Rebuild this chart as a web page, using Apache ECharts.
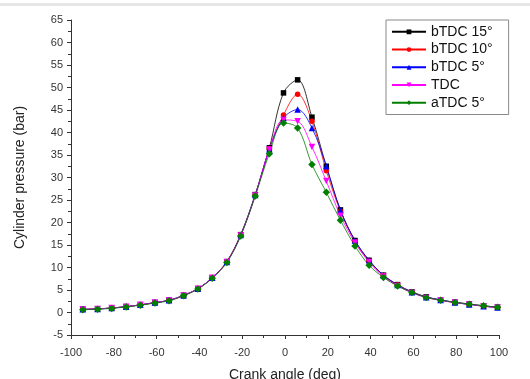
<!DOCTYPE html>
<html>
<head>
<meta charset="utf-8">
<script src="https://cdn.jsdelivr.net/npm/echarts@6/dist/echarts.min.js"></script>
<style>html,body{margin:0;padding:0;background:#fff;}#c{width:530px;height:379px;}</style>
</head>
<body>
<div id="c"></div>
<script>
var crankAngle = [-94.5, -87.6, -81.0, -74.2, -67.6, -60.8, -54.2, -47.4, -40.7, -34.0, -27.2, -20.7, -13.9, -7.3, -0.7, 5.9, 12.6, 19.3, 25.9, 32.7, 39.3, 46.0, 52.6, 59.3, 66.0, 72.7, 79.4, 86.1, 92.8, 99.3];
var bTDC15 = [0.7, 0.8, 1.0, 1.3, 1.7, 2.2, 2.7, 3.8, 5.3, 7.7, 11.3, 17.3, 26.2, 36.6, 48.8, 51.7, 43.4, 32.5, 22.8, 16.0, 11.6, 8.3, 6.2, 4.6, 3.5, 2.8, 2.3, 1.9, 1.5, 1.2];
var bTDC10 = [0.7, 0.8, 1.0, 1.3, 1.7, 2.2, 2.7, 3.8, 5.3, 7.7, 11.3, 17.2, 26.1, 36.4, 43.9, 48.5, 42.5, 31.5, 22.5, 15.8, 11.4, 8.2, 6.1, 4.5, 3.4, 2.7, 2.2, 1.8, 1.4, 1.1];
var bTDC5 = [0.7, 0.8, 1.0, 1.3, 1.7, 2.2, 2.7, 3.8, 5.3, 7.7, 11.2, 17.2, 26.1, 36.3, 43.2, 45.1, 41.0, 32.5, 22.7, 16.0, 11.6, 8.3, 6.1, 4.5, 3.4, 2.8, 2.2, 1.8, 1.4, 1.1];
var TDC = [0.7, 0.8, 1.0, 1.3, 1.7, 2.2, 2.7, 3.8, 5.3, 7.7, 11.2, 17.1, 26.0, 36.2, 42.8, 42.5, 36.8, 29.2, 21.5, 15.5, 11.2, 8.0, 5.9, 4.4, 3.3, 2.7, 2.2, 1.8, 1.4, 1.1];
var aTDC5 = [0.6, 0.75, 0.9, 1.25, 1.6, 2.1, 2.6, 3.7, 5.2, 7.6, 11.1, 17.0, 25.9, 35.3, 42.1, 41.0, 32.9, 26.7, 20.5, 14.8, 10.5, 7.8, 5.9, 4.45, 3.35, 2.75, 2.25, 1.85, 1.5, 1.15];
var seriesNames = ['bTDC 15°', 'bTDC 10°', 'bTDC 5°', 'TDC', 'aTDC 5°'];
var xTicks = [-100, -80, -60, -40, -20, 0, 20, 40, 60, 80, 100];
var yTicks = [-5, 0, 5, 10, 15, 20, 25, 30, 35, 40, 45, 50, 55, 60, 65];

function pairs(ys) { return crankAngle.map(function (x, i) { return [x, ys[i]]; }); }

var styles = [
  {color: '#000000', symbol: 'rect', rot: 0, size: 5.5},
  {color: '#ff0000', symbol: 'circle', rot: 0, size: 5.5},
  {color: '#0000ff', symbol: 'triangle', rot: 0, size: 6.5},
  {color: '#ff00ff', symbol: 'triangle', rot: 180, size: 6.5},
  {color: '#008000', symbol: 'diamond', rot: 0, size: 7.5}
];
var dataSets = [bTDC15, bTDC10, bTDC5, TDC, aTDC5];

var chart = echarts.init(document.getElementById('c'), null, {renderer: 'canvas'});
var fontFam = 'Liberation Sans, Arial, sans-serif';
var axisCommon = {
  axisLine: {show: true, onZero: false, lineStyle: {color: '#333', width: 1}},
  axisTick: {show: true, inside: false, length: 4, lineStyle: {color: '#333'}},
  minorTick: {show: true, splitNumber: 2, length: 3, lineStyle: {color: '#333'}},
  splitLine: {show: false},
  nameTextStyle: {color: '#222', fontSize: 14, fontFamily: fontFam}
};
chart.setOption({
  animation: false,
  backgroundColor: '#fff',
  graphic: [{type: 'rect', shape: {x: 0, y: 3, width: 530, height: 3}, style: {fill: '#e6e6e6'}}],
  grid: {left: 71, right: 31, top: 20, bottom: 44, containLabel: false, outerBoundsMode: 'none'},
  xAxis: Object.assign({}, axisCommon, {
    type: 'value', min: xTicks[0], max: xTicks[xTicks.length - 1], interval: 20,
    axisLabel: {color: '#333', fontSize: 11, fontFamily: fontFam, margin: 12},
    name: 'Crank angle (deg)', nameLocation: 'middle', nameGap: 33
  }),
  yAxis: Object.assign({}, axisCommon, {
    type: 'value', min: yTicks[0], max: yTicks[yTicks.length - 1], interval: 5,
    axisLabel: {color: '#333', fontSize: 11, fontFamily: fontFam, margin: 8},
    name: 'Cylinder pressure (bar)', nameLocation: 'middle', nameGap: 44
  }),
  legend: {
    orient: 'vertical', left: 386, top: 20,
    data: seriesNames,
    itemWidth: 34, itemHeight: 6, itemGap: 2,
    padding: [4, 16, 4, 5],
    borderColor: '#888', borderWidth: 1, borderRadius: 0,
    textStyle: {color: '#111', fontSize: 14, lineHeight: 15.7, fontFamily: fontFam}
  },
  series: dataSets.map(function (d, i) {
    var s = styles[i];
    return {
      name: seriesNames[i], type: 'line', data: pairs(d), smooth: 0.35,
      symbol: s.symbol, symbolSize: s.size, symbolRotate: s.rot, showAllSymbol: true,
      lineStyle: {color: s.color, width: 0.8},
      itemStyle: {color: s.color},
      emphasis: {disabled: true}
    };
  })
});
</script>
</body>
</html>
